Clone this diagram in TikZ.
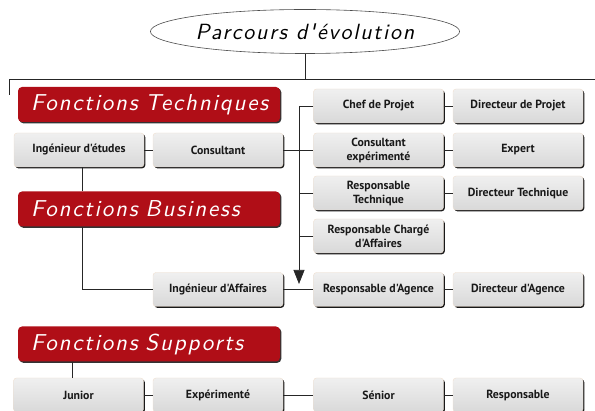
\documentclass[tikz,border=0pt]{standalone}
\usepackage{fontspec}
\newfontfamily\boxfont{PT Sans}
\newfontfamily\handfont{lmsans10-oblique.otf}[LetterSpace=8]
\usetikzlibrary{shadows,arrows.meta,shapes.geometric}
\definecolor{redbox}{HTML}{B00E17}
\begin{document}
\begin{tikzpicture}[x=1pt,y=-1pt,
  gbox/.style={rounded corners=3pt, draw=brown!25, line width=0.4pt,
    top color=gray!12, bottom color=gray!30,
    minimum width=130pt, minimum height=34pt, inner sep=0pt, align=center,
    font=\boxfont\bfseries\fontsize{11.8}{14}\selectfont, text=black!90,
    drop shadow={shadow xshift=1.3pt, shadow yshift=-1.3pt, opacity=0.9, fill=black}},
  rbox/.style={rounded corners=4pt, fill=redbox, minimum width=262pt, minimum height=35pt,
    text width=236pt, align=left, inner xsep=13pt, inner ysep=0pt, text=white,
    font=\handfont\fontsize{23}{26}\selectfont,
    drop shadow={shadow xshift=1.3pt, shadow yshift=-1.3pt, opacity=0.8, fill=black}},
  ln/.style={draw=black!85, line width=0.7pt}]
\useasboundingbox (0,0) rectangle (595,411);

% title
\node[ellipse, draw=black!70, line width=0.6pt, fill=white, minimum width=288pt, minimum height=44pt,
  inner sep=0pt, font=\handfont\fontsize{22}{24}\selectfont] (title) at (305,31.5) {Parcours d'évolution};

\coordinate (hl) at (9,79);
\coordinate (hr) at (595,79);
\coordinate (hd) at (9,95);
\coordinate (vx) at (82,0);
\coordinate (vx2) at (72,0);
\coordinate (tr1) at (299,106);
\coordinate (tr2) at (299,284);

% red headings
\node[rbox] (FT) at (149,104.5) {Fonctions Techniques};
\node[rbox] (FB) at (149,209) {Fonctions Business};
\node[rbox] (FS) at (149,344) {Fonctions Supports};

% grey boxes
\node[gbox] (ingE) at (79,150) {Ingénieur d'études};
\node[gbox] (cons) at (218,150) {Consultant};
\node[gbox] (chef) at (378.5,106) {Chef de Projet};
\node[gbox] (dirP) at (518,106) {Directeur de Projet};
\node[gbox] (consExp) at (378.5,150) {Consultant\\expérimenté};
\node[gbox] (expert) at (518,150) {Expert};
\node[gbox] (respT) at (378.5,193) {Responsable\\Technique};
\node[gbox] (dirT) at (518,193) {Directeur Technique};
\node[gbox] (respCA) at (378.5,236) {Responsable Chargé\\d'Affaires};
\node[gbox] (ingA) at (218,289.5) {Ingénieur d'Affaires};
\node[gbox] (respAg) at (378.5,289.5) {Responsable d'Agence};
\node[gbox] (dirAg) at (518,289.5) {Directeur d'Agence};
\node[gbox] (junior) at (78.5,395) {Junior};
\node[gbox] (exper) at (218,395) {Expérimenté};
\node[gbox] (senior) at (378.5,395) {Sénior};
\node[gbox] (resp) at (518,395) {Responsable};

% connectors
\draw[ln] (title.south) -- (title.south |- hl);
\draw[ln] (hd) -- (hl) -- (hr);
\draw[ln] (ingE) -- (cons);
\draw[ln] (cons.east) -- (consExp.west);
\draw[ln] (chef.west) -- (tr1);
\draw[ln,-{Triangle[length=14pt,width=11pt]}] (tr1) -- (tr2);
\draw[ln] (respT.west) -- (respT.west -| tr1);
\draw[ln] (respCA.west) -- (respCA.west -| tr1);
\draw[ln] (chef) -- (dirP);
\draw[ln] (consExp) -- (expert);
\draw[ln] (respT) -- (dirT);
\draw[ln] (respAg) -- (dirAg);
\draw[ln] (ingE.south -| vx) -- (FB.north -| vx);
\draw[ln] (FB.south -| vx) |- (ingA.west);
\draw[ln] (ingA) -- (respAg);
\draw[ln] (FS.south -| vx2) -- (junior.north -| vx2);
\draw[ln] (junior) -- (exper);
\draw[ln] (exper) -- (senior);
\draw[ln] (senior) -- (resp);
\end{tikzpicture}
\end{document}
